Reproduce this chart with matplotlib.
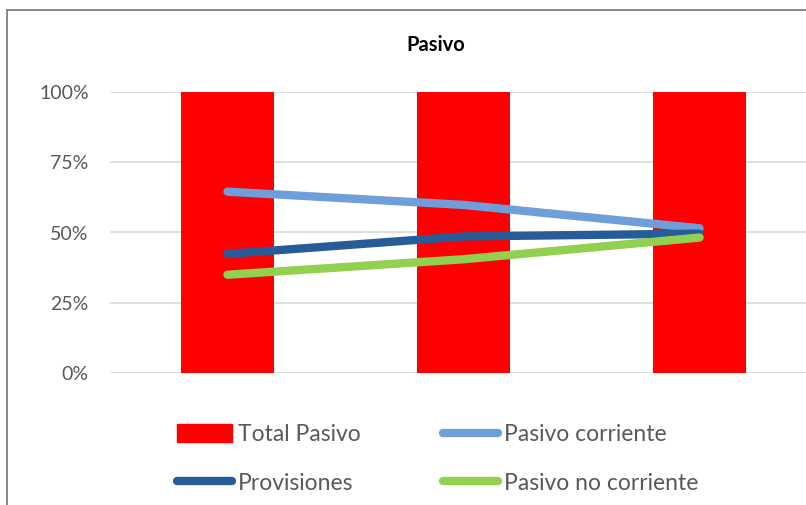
import numpy as np
import matplotlib.pyplot as plt
from matplotlib.patches import Rectangle
from matplotlib.lines import Line2D
from matplotlib.ticker import PercentFormatter

plt.rcParams['font.family'] = ['Lato', 'DejaVu Sans']

# data (share of 100%)
categories = ['A', 'B', 'C']
total_pasivo = [1.00, 1.00, 1.00]
pasivo_corriente = [0.645, 0.598, 0.515]
provisiones = [0.424, 0.486, 0.496]
pasivo_no_corriente = [0.350, 0.405, 0.482]
yticks = [0, 0.25, 0.5, 0.75, 1.0]

RED = '#FF0000'
LIGHT = '#6E9FDA'
DARK = '#285C99'
GREEN = '#92D050'
GREY_TXT = '#595959'

fig = plt.figure(figsize=(8.06, 5.05), dpi=100)
ax = fig.add_axes([109.5 / 806, 1 - 373.3 / 505, 708 / 806, 281.6 / 505])

x = np.arange(len(categories))
ax.bar(x, total_pasivo, width=0.394, color=RED, zorder=2)

lw = 6
ax.plot(x, pasivo_corriente, color=LIGHT, lw=lw, solid_capstyle='round', solid_joinstyle='round', zorder=3)
ax.plot(x, provisiones, color=DARK, lw=lw, solid_capstyle='round', solid_joinstyle='round', zorder=4)
ax.plot(x, pasivo_no_corriente, color=GREEN, lw=lw, solid_capstyle='round', solid_joinstyle='round', zorder=5)

ax.set_xlim(-0.5, 2.5)
ax.set_ylim(0, 1)
ax.set_yticks(yticks)
ax.yaxis.set_major_formatter(PercentFormatter(1.0, decimals=0))
ax.set_xticks([])
ax.tick_params(axis='y', length=0, pad=15, labelsize=14, labelcolor=GREY_TXT)
for s in ax.spines.values():
    s.set_visible(False)
ax.grid(axis='y', color='#D9D9D9', lw=1.2, zorder=0)
ax.set_axisbelow(True)

fig.text(436 / 806, 1 - 45 / 505, 'Pasivo', ha='center', va='center',
         fontsize=14.5, fontweight='bold', color='black')

# legend: two rows, two columns
handles = [
    Rectangle((0, 0), 1, 1, color=RED),
    Line2D([], [], color=DARK, lw=lw, solid_capstyle='round'),
    Line2D([], [], color=LIGHT, lw=lw, solid_capstyle='round'),
    Line2D([], [], color=GREEN, lw=lw, solid_capstyle='round'),
]
labels = ['Total Pasivo', 'Provisiones', 'Pasivo corriente', 'Pasivo no corriente']
fig.legend(handles, labels, ncol=2, loc='upper left',
           bbox_to_anchor=(177 / 806, 1 - 424 / 505), frameon=False,
           fontsize=16.5, labelcolor=GREY_TXT, handlelength=2.4, handleheight=0.78,
           handletextpad=0.26, columnspacing=3.6, labelspacing=1.2,
           borderaxespad=0, borderpad=0)

# chart border (cropped at right and bottom)
fig.patches.append(Rectangle((7.5 / 806, -0.1), 1.2, 1.1 - 9.5 / 505,
                             transform=fig.transFigure, fill=False,
                             edgecolor='#7F7F7F', lw=1.3))

fig.savefig('out.png', dpi=100)
